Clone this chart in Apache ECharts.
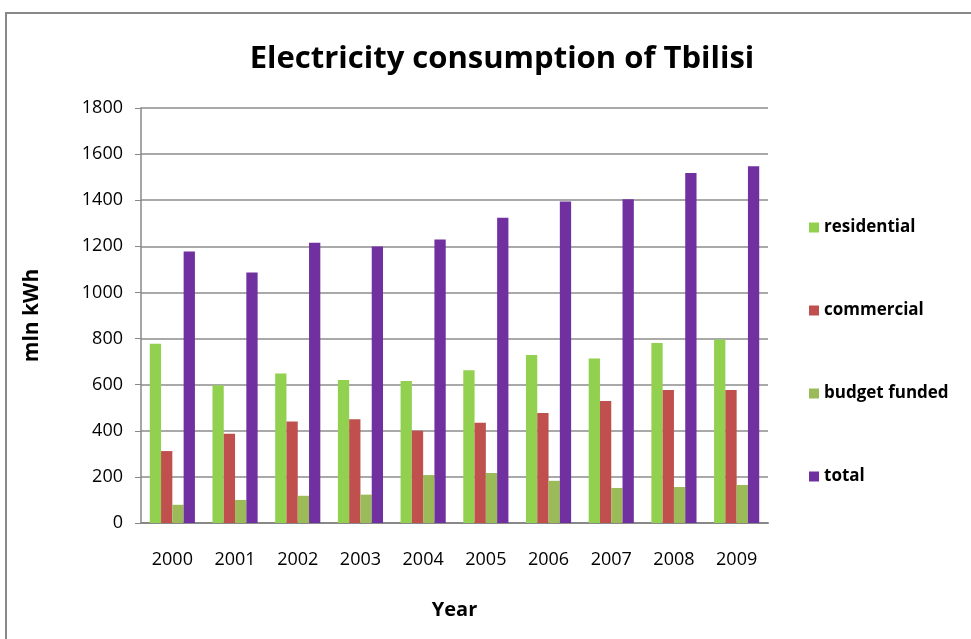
<!DOCTYPE html>
<html><head><meta charset="utf-8">
<script src="https://cdn.jsdelivr.net/npm/echarts@6/dist/echarts.min.js"></script>
<style>html,body{margin:0;padding:0;background:#fff}#c{width:971px;height:639px}</style>
</head><body><div id="c"></div>
<script>
var years = ['2000','2001','2002','2003','2004','2005','2006','2007','2008','2009'];
var residential = [777, 598, 648, 620, 616, 662, 729, 714, 781, 796];
var commercial = [312, 387, 440, 450, 400, 435, 477, 529, 577, 577];
var budgetFunded = [79, 100, 118, 123, 208, 217, 183, 152, 156, 165];
var total = [1178, 1087, 1216, 1199, 1230, 1324, 1395, 1404, 1518, 1547];
var yTicks = [0, 200, 400, 600, 800, 1000, 1200, 1400, 1600, 1800];

var font = '"Open Sans", "DejaVu Sans Condensed", sans-serif';
var chart = echarts.init(document.getElementById('c'), null, {renderer: 'canvas'});
function bar(name, data, color) {
  return {name: name, type: 'bar', data: data, barGap: '0%', barCategoryGap: '28%',
    itemStyle: {color: color}};
}
chart.setOption({
  animation: false,
  graphic: [{type: 'rect', shape: {x: 6, y: 13, width: 1100, height: 800},
    style: {fill: 'none', stroke: '#888', lineWidth: 2}, silent: true, z: -1}],
  title: {text: 'Electricity consumption of Tbilisi', left: 497, top: 39, textAlign: 'center',
    textStyle: {fontFamily: font, fontWeight: 'bold', fontSize: 31, color: '#000'}},
  legend: {orient: 'vertical', left: 804, top: 214, itemGap: 66, itemWidth: 10, itemHeight: 10,
    icon: 'rect', textStyle: {fontFamily: font, fontSize: 17, color: '#000', fontWeight: 'bold'},
    data: ['residential', 'commercial', 'budget funded', 'total']},
  grid: {left: 141, top: 108, width: 627, height: 415, containLabel: false},
  xAxis: {type: 'category', data: years, name: 'Year', nameLocation: 'middle', nameGap: 77,
    nameTextStyle: {fontFamily: font, fontWeight: 'bold', fontSize: 20, color: '#000'},
    axisLine: {lineStyle: {color: '#888', width: 2}}, axisTick: {show: false},
    axisLabel: {fontFamily: font, fontSize: 18, color: '#000', margin: 28}},
  yAxis: {type: 'value', min: 0, max: 1800, interval: 200, name: 'mln kWh', nameLocation: 'middle', nameGap: 98,
    nameTextStyle: {fontFamily: font, fontWeight: 'bold', fontSize: 21, color: '#000'},
    axisLine: {show: true, lineStyle: {color: '#888', width: 1.5}},
    axisTick: {show: true, length: 6, lineStyle: {color: '#888'}},
    splitLine: {lineStyle: {color: '#8c8c8c', width: 1.5}},
    axisLabel: {fontFamily: font, fontSize: 18, color: '#000', margin: 18,
      formatter: function(v){ return yTicks.indexOf(v) >= 0 ? String(v) : ''; }}},
  series: [
    bar('residential', residential, '#92D050'),
    bar('commercial', commercial, '#C0504D'),
    bar('budget funded', budgetFunded, '#9BBB59'),
    bar('total', total, '#7030A0')
  ]
});
</script></body></html>
